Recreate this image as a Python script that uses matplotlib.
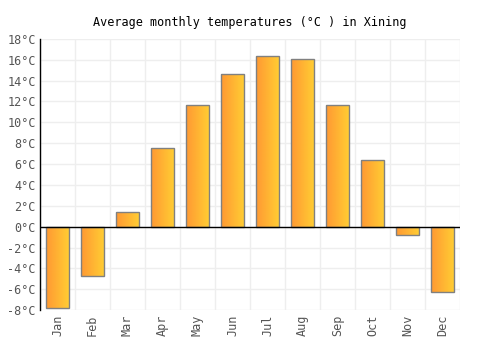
import matplotlib
matplotlib.use("Agg")
import matplotlib.pyplot as plt
import numpy as np
from matplotlib.colors import LinearSegmentedColormap

months = ["Jan", "Feb", "Mar", "Apr", "May", "Jun", "Jul", "Aug", "Sep", "Oct", "Nov", "Dec"]
temps = [-7.8, -4.7, 1.4, 7.5, 11.7, 14.6, 16.4, 16.1, 11.7, 6.4, -0.8, -6.3]
yticks = list(range(-8, 20, 2))

font = "DejaVu Sans Mono"
fig = plt.figure(figsize=(5, 3.5), dpi=100)
ax = fig.add_axes([0.08, 0.114, 0.84, 0.775])

x = np.arange(len(months))
ax.set_xlim(-0.5, len(months) - 0.5)
ax.set_ylim(-8, 18)

cmap = LinearSegmentedColormap.from_list("g", ["#ff9933", "#ffcc33"])
grad = np.linspace(0, 1, 64).reshape(1, -1)
bars = ax.bar(x, temps, width=0.65, facecolor="none", edgecolor="#808080", linewidth=1, zorder=4)
for b in bars:
    x0, y0 = b.get_x(), b.get_y()
    w, h = b.get_width(), b.get_height()
    ylo, yhi = min(y0, y0 + h), max(y0, y0 + h)
    im = ax.imshow(grad, cmap=cmap, extent=[x0, x0 + w, ylo, yhi], aspect="auto", zorder=3, interpolation="bilinear")
    im.set_clip_path(b)

ax.set_xlim(-0.5, len(months) - 0.5)
ax.set_ylim(-8, 18)
ax.set_yticks(yticks)
ax.set_yticklabels([f"{t}°C" for t in yticks], fontfamily=font, fontsize=8.5, color="#555555")
ax.set_xticks(x)
ax.set_xticklabels(months, rotation=90, fontfamily=font, fontsize=8.5, color="#555555")
ax.set_xticks(np.arange(-0.5, len(months), 1), minor=True)
ax.tick_params(axis="both", which="both", length=0, pad=3)
ax.grid(True, which="minor", axis="x", color="#eeeeee", linewidth=1, zorder=0)
ax.grid(True, which="major", axis="y", color="#eeeeee", linewidth=1, zorder=0)
ax.set_axisbelow(True)
ax.axhline(0, color="black", linewidth=1, zorder=5)
for s in ["top", "right", "bottom"]:
    ax.spines[s].set_visible(False)
ax.spines["left"].set_color("black")
ax.spines["left"].set_linewidth(1)
ax.spines["left"].set_zorder(6)

fig.suptitle("Average monthly temperatures (°C ) in Xining", fontfamily=font, fontsize=8.5, y=0.955)
fig.savefig("out.png", dpi=100)
